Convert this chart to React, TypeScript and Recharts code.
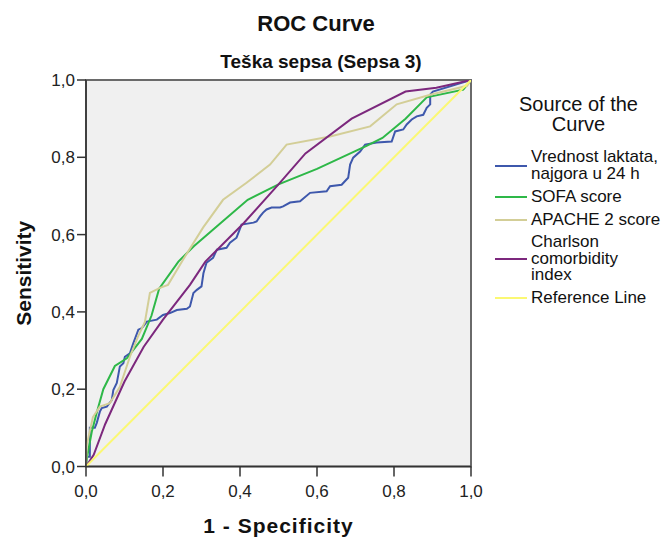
import React from "react";
import {
  LineChart,
  Line,
  XAxis,
  YAxis,
  CartesianGrid,
  ReferenceArea,
  Legend,
  Label,
} from "recharts";

// axis ticks
const xTicks = [0, 0.2, 0.4, 0.6, 0.8, 1];
const yTicks = [0, 0.2, 0.4, 0.6, 0.8, 1];

// [1 - specificity, sensitivity]
const lactatePoints = [
  [0, 0], [0.002, 0.025], [0.01, 0.025], [0.01, 0.1], [0.023, 0.1], [0.028, 0.113],
  [0.036, 0.142], [0.041, 0.151], [0.054, 0.155], [0.067, 0.172], [0.071, 0.198],
  [0.08, 0.216], [0.088, 0.259], [0.097, 0.267], [0.101, 0.284], [0.114, 0.293],
  [0.123, 0.319], [0.136, 0.354], [0.145, 0.358], [0.158, 0.375], [0.184, 0.38],
  [0.2, 0.392], [0.218, 0.397], [0.236, 0.405], [0.262, 0.408], [0.27, 0.414],
  [0.279, 0.449], [0.288, 0.457], [0.3, 0.466], [0.305, 0.5], [0.313, 0.527],
  [0.33, 0.54], [0.34, 0.561], [0.365, 0.566], [0.374, 0.579], [0.391, 0.592],
  [0.404, 0.626], [0.435, 0.631], [0.443, 0.634], [0.452, 0.647], [0.46, 0.657],
  [0.469, 0.665], [0.482, 0.67], [0.504, 0.67], [0.512, 0.673], [0.53, 0.683],
  [0.556, 0.686], [0.582, 0.708], [0.625, 0.712], [0.634, 0.725], [0.664, 0.729],
  [0.681, 0.747], [0.686, 0.781], [0.694, 0.799], [0.712, 0.815], [0.725, 0.833],
  [0.755, 0.838], [0.794, 0.841], [0.803, 0.867], [0.824, 0.872], [0.833, 0.885],
  [0.846, 0.898], [0.859, 0.906], [0.876, 0.91], [0.885, 0.928], [0.894, 0.937],
  [0.894, 0.962], [0.901, 0.97], [1, 1],
];

const sofaPoints = [
  [0, 0], [0.002, 0.02], [0.015, 0.09], [0.028, 0.14], [0.045, 0.2], [0.075, 0.26],
  [0.106, 0.28], [0.145, 0.33], [0.17, 0.39], [0.19, 0.46], [0.24, 0.53],
  [0.28, 0.57], [0.35, 0.63], [0.42, 0.69], [0.5, 0.73], [0.6, 0.77], [0.73, 0.83],
  [0.77, 0.85], [0.83, 0.9], [0.885, 0.955], [0.98, 0.975], [1, 1],
];

const apachePoints = [
  [0, 0], [0.002, 0.056], [0.018, 0.128], [0.036, 0.155], [0.062, 0.164],
  [0.088, 0.206], [0.114, 0.284], [0.135, 0.336], [0.153, 0.374], [0.166, 0.449],
  [0.192, 0.462], [0.213, 0.47], [0.252, 0.535], [0.304, 0.618], [0.356, 0.69],
  [0.417, 0.734], [0.478, 0.781], [0.521, 0.833], [0.634, 0.854], [0.738, 0.88],
  [0.807, 0.937], [0.894, 0.962], [0.99, 0.985], [1, 1],
];

const charlsonPoints = [
  [0, 0], [0.02, 0.03], [0.05, 0.11], [0.1, 0.22], [0.15, 0.31], [0.2, 0.38],
  [0.27, 0.47], [0.31, 0.53], [0.41, 0.63], [0.5, 0.73], [0.57, 0.81], [0.69, 0.9],
  [0.83, 0.97], [0.91, 0.98], [1, 1],
];

const referencePoints = [
  [0, 0], [1, 1],
];

const toRows = (pts: number[][]) => pts.map(([x, y]) => ({ x, y }));

const series = [
  { key: "lactate", name: "Vrednost laktata,\nnajgora u 24 h", color: "#3E58AC", points: lactatePoints },
  { key: "sofa", name: "SOFA score", color: "#2EB848", points: sofaPoints },
  { key: "apache", name: "APACHE 2 score", color: "#D3CE97", points: apachePoints },
  { key: "charlson", name: "Charlson\ncomorbidity\nindex", color: "#7C287D", points: charlsonPoints },
  { key: "reference", name: "Reference Line", color: "#FBF873", points: referencePoints },
];

const FONT = '"Liberation Sans", Arial, Helvetica, sans-serif';
const fmt = (v: number) => v.toFixed(1).replace(".", ",");

const itemGaps = [0, 7, 6, 6, 6];

// keep the legend in series order (recharts sorts the payload by name)
function renderLegend(props: any) {
  const payload = props.payload ?? [];
  const items = series.map((s) => {
    const hit = payload.find((p: any) => p.value === s.name);
    return { value: s.name, color: hit?.color ?? s.color };
  });
  return (
    <div style={{ fontFamily: FONT, color: "#111" }}>
      <div style={{ textAlign: "center", fontSize: 20, lineHeight: "20px", marginBottom: 15 }}>
        Source of the
        <br />
        Curve
      </div>
      {items.map((entry, i) => (
        <div
          key={entry.value}
          style={{ display: "flex", alignItems: "center", marginTop: itemGaps[i] ?? 6 }}
        >
          <span
            style={{
              display: "inline-block",
              width: 32,
              height: 0,
              borderTop: `2px solid ${entry.color}`,
              marginLeft: 5,
              marginRight: 4,
              flexShrink: 0,
            }}
          />
          <span style={{ fontSize: 17, lineHeight: "16.5px", whiteSpace: "pre-line" }}>
            {entry.value}
          </span>
        </div>
      ))}
    </div>
  );
}

function renderYLabel(props: any) {
  const vb = props.viewBox;
  const x = vb.x + 31;
  const y = vb.y + vb.height / 2;
  return (
    <text
      x={x}
      y={y}
      transform={`rotate(-90 ${x} ${y})`}
      textAnchor="middle"
      fontFamily={FONT}
      fontWeight="bold"
      fontSize={21}
      fill="#111"
    >
      Sensitivity
    </text>
  );
}

export default function App() {
  return (
    <div
      style={{
        position: "absolute",
        left: 0,
        top: 0,
        width: 667,
        height: 539,
        background: "#fff",
        fontFamily: FONT,
      }}
    >
      <div
        style={{
          position: "absolute",
          left: 0,
          top: 13,
          width: 632,
          textAlign: "center",
          fontSize: 22,
          lineHeight: "22px",
          fontWeight: "bold",
          color: "#111",
        }}
      >
        ROC Curve
      </div>
      <div
        style={{
          position: "absolute",
          left: 0,
          top: 52,
          width: 642,
          textAlign: "center",
          fontSize: 19,
          lineHeight: "19px",
          fontWeight: "bold",
          color: "#111",
        }}
      >
        Teška sepsa (Sepsa 3)
      </div>
      <LineChart width={667} height={539} margin={{ top: 80, right: 196, bottom: 0, left: 0 }}>
        <CartesianGrid fill="#F0F0F0" horizontal={false} vertical={false} />
        <XAxis
          type="number"
          dataKey="x"
          domain={[0, 1]}
          ticks={xTicks}
          interval={0}
          tickFormatter={fmt}
          height={72.5}
          tickSize={10}
          tickMargin={8}
          allowDataOverflow
          axisLine={{ stroke: "#333", strokeWidth: 1.5 }}
          tickLine={{ stroke: "#333", strokeWidth: 1.5 }}
          tick={{ fill: "#222", fontSize: 17, fontFamily: FONT }}
        >
          <Label
            value="1 - Specificity"
            position="insideBottom"
            offset={6}
            style={{ fontFamily: FONT, fontWeight: "bold", fontSize: 21, fill: "#111", letterSpacing: 1 }}
          />
        </XAxis>
        <YAxis
          type="number"
          domain={[0, 1]}
          ticks={yTicks}
          interval={0}
          tickFormatter={fmt}
          width={86}
          tickSize={9}
          tickMargin={2}
          allowDataOverflow
          axisLine={{ stroke: "#333", strokeWidth: 1.5 }}
          tickLine={{ stroke: "#333", strokeWidth: 1.5 }}
          tick={{ fill: "#222", fontSize: 17, fontFamily: FONT }}
        >
          <Label value="Sensitivity" content={renderYLabel} />
        </YAxis>
        <ReferenceArea
          x1={0}
          x2={1}
          y1={0}
          y2={1}
          fill="none"
          fillOpacity={0}
          stroke="#6a6a6a"
          strokeWidth={2}
        />
        {series.map((s) => (
          <Line
            key={s.key}
            data={toRows(s.points)}
            dataKey="y"
            name={s.name}
            type="linear"
            stroke={s.color}
            strokeWidth={2}
            dot={false}
            activeDot={false}
            isAnimationActive={false}
          />
        ))}
        <Legend
          layout="vertical"
          align="center"
          verticalAlign="middle"
          content={renderLegend}
          wrapperStyle={{ left: 490, top: 94, width: 177 }}
        />
      </LineChart>
    </div>
  );
}
